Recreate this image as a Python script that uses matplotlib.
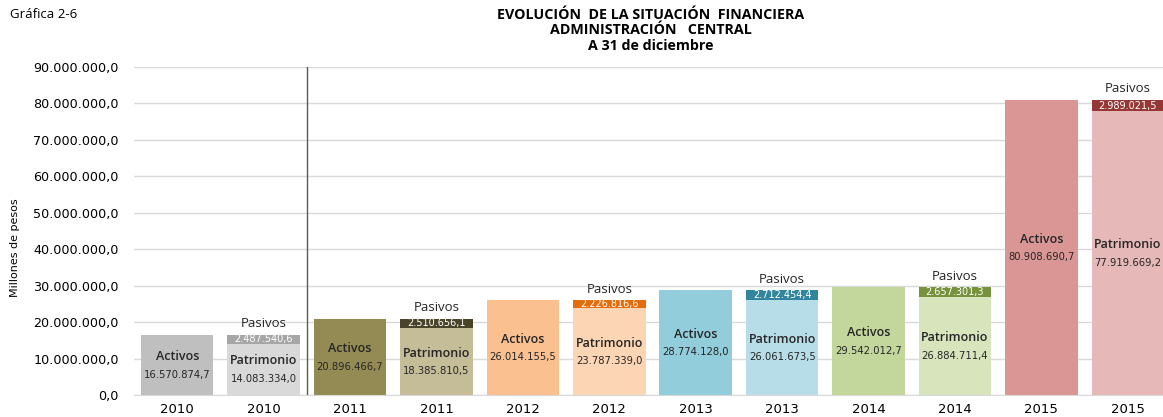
import matplotlib.pyplot as plt
from matplotlib.ticker import FuncFormatter

years = ['2010', '2011', '2012', '2013', '2014', '2015']
activos = [16570874.7, 20896466.7, 26014155.5, 28774128.0, 29542012.7, 80908690.7]
patrimonio = [14083334.0, 18385810.5, 23787339.0, 26061673.5, 26884711.4, 77919669.2]
pasivos = [2487540.6, 2510656.1, 2226816.6, 2712454.4, 2657301.3, 2989021.5]

col_act = ['#BFBFBF', '#948A54', '#FAC090', '#92CDDC', '#C3D69B', '#D99694']
col_pat = ['#D9D9D9', '#C4BD97', '#FCD5B4', '#B7DEE8', '#D7E4BC', '#E6B9B8']
col_pas = ['#A6A6A6', '#494429', '#E46C0A', '#31859C', '#76923C', '#953735']

plt.rcParams['font.family'] = ['Open Sans', 'DejaVu Sans']


def fmt(v):
    s = '{:,.1f}'.format(v)
    return s.replace(',', 'X').replace('.', ',').replace('X', '.')


fig = plt.figure(figsize=(11.63, 4.17), dpi=100)
ax = fig.add_axes([0.1152, 0.0528, 0.8917, 0.7866])

w = 0.84
txt = '#262626'
for i, y in enumerate(years):
    xa = 2 * i
    xp = 2 * i + 1
    # activos bar
    ax.bar(xa, activos[i], width=w, color=col_act[i], zorder=2)
    c = activos[i] / 2
    ax.annotate('Activos', (xa, c), xytext=(0, 6), textcoords='offset points',
                ha='center', va='center', fontsize=9, color=txt, fontweight='semibold')
    ax.annotate(fmt(activos[i]), (xa, c), xytext=(0, -7), textcoords='offset points',
                ha='center', va='center', fontsize=7.2, color=txt, family='DejaVu Sans')
    # patrimonio + pasivos stacked
    ax.bar(xp, patrimonio[i], width=w, color=col_pat[i], zorder=2)
    ax.bar(xp, pasivos[i], bottom=patrimonio[i], width=w, color=col_pas[i], zorder=2)
    c = patrimonio[i] / 2
    ax.annotate('Patrimonio', (xp, c), xytext=(0, 6), textcoords='offset points',
                ha='center', va='center', fontsize=9, color=txt, fontweight='semibold')
    ax.annotate(fmt(patrimonio[i]), (xp, c), xytext=(0, -7), textcoords='offset points',
                ha='center', va='center', fontsize=7.2, color=txt, family='DejaVu Sans')
    ax.text(xp, patrimonio[i] + pasivos[i] / 2, fmt(pasivos[i]), ha='center', va='center',
            fontsize=7, color='white', family='DejaVu Sans')
    ax.annotate('Pasivos', (xp, patrimonio[i] + pasivos[i]), xytext=(0, 8),
                textcoords='offset points', ha='center', va='center', fontsize=9.5, color=txt)

ax.set_xlim(-0.5, 2 * len(years) - 0.5)
ax.set_ylim(0, 90000000)
ax.set_yticks(range(0, 90000001, 10000000))
ax.yaxis.set_major_formatter(FuncFormatter(lambda v, p: fmt(v)))
ax.set_xticks(range(2 * len(years)))
ax.set_xticklabels([y for y in years for _ in range(2)])
ax.tick_params(axis='both', length=0, colors='#000000')
ax.tick_params(axis='y', labelsize=9.2, pad=11)
ax.tick_params(axis='x', labelsize=9.5, pad=6)
for t in ax.get_yticklabels() + ax.get_xticklabels():
    t.set_family('DejaVu Sans')
ax.grid(axis='y', color='#D9D9D9', linewidth=1, zorder=0)
for s in ['top', 'right', 'left']:
    ax.spines[s].set_visible(False)
ax.spines['bottom'].set_color('#D9D9D9')
ax.axvline(1.5, color='#595959', linewidth=1, zorder=3)

fig.text(0.013, 0.405, 'Millones de pesos', fontsize=8, family='Liberation Sans Narrow',
         rotation=90, ha='center', va='center')

fig.text(0.0086, 0.966, 'Gráfica 2-6', fontsize=9.5, va='center', ha='left')
fig.text(0.5598, 0.964, 'EVOLUCIÓN  DE LA SITUACIÓN  FINANCIERA', fontsize=10.3, fontweight='bold',
         ha='center', va='center')
fig.text(0.5598, 0.928, 'ADMINISTRACIÓN   CENTRAL', fontsize=10.3, fontweight='bold',
         ha='center', va='center')
fig.text(0.5598, 0.889, 'A 31 de diciembre', fontsize=10.3, fontweight='bold',
         ha='center', va='center')

fig.savefig('out.png', dpi=100)
